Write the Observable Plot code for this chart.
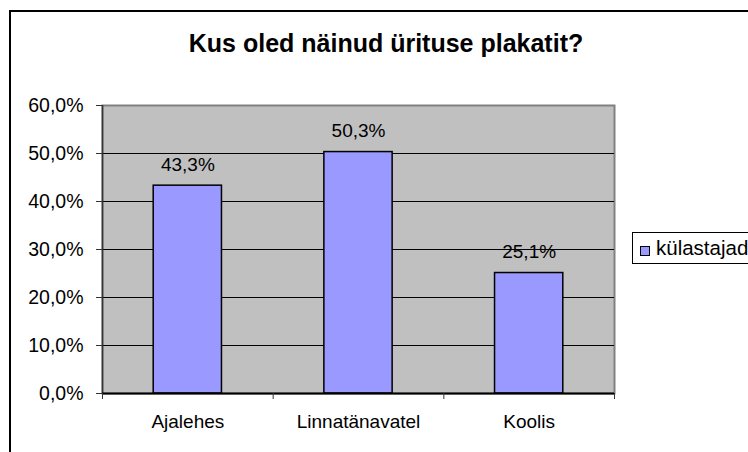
<!DOCTYPE html>
<html>
<head>
<meta charset="utf-8">
<script src="https://cdn.jsdelivr.net/npm/d3@7"></script>
<script src="https://cdn.jsdelivr.net/npm/@observablehq/plot@0.6"></script>
<style>
  html, body { margin: 0; padding: 0; background: #fff; }
  #wrap { position: relative; width: 748px; height: 452px; overflow: hidden; background: #fff; font-family: "Liberation Sans", Arial, sans-serif; }
  #border { position: absolute; left: 9px; top: 10px; width: 900px; height: 900px; border: 2px solid #000; box-sizing: border-box; }
  #title { position: absolute; left: 0; top: 0; width: 772px; height: 70px; box-sizing: border-box; padding-top: 31px; text-align: center; font-weight: bold; font-size: 25px; line-height: 25px; color: #000; }
  #chart { position: absolute; left: 0; top: 70px; }
  #legend { position: absolute; left: 632px; top: 232px; width: 200px; height: 32px; border: 1px solid #000; box-sizing: border-box; background: #fff; font-size: 20.5px; color: #000; }
  #legend .sw { position: absolute; left: 7px; top: 13px; width: 10px; height: 10px; border: 1px solid #000; box-sizing: border-box; }
  #legend .lbl { position: absolute; left: 23px; top: 2px; line-height: 25px; white-space: nowrap; }
</style>
</head>
<body>
<div id="wrap">
  <div id="border"></div>
  <div id="title"></div>
  <div id="chart"></div>
  <div id="legend"><span class="sw"></span><span class="lbl"></span></div>
</div>
<script>
const titleText = "Kus oled näinud ürituse plakatit?";
const categories = ["Ajalehes", "Linnatänavatel", "Koolis"];
const values = [43.3, 50.3, 25.1];
const seriesName = "külastajad";
const yTicks = [0, 10, 20, 30, 40, 50, 60];
const barColor = "#9999FF";

const fmt = v => v.toFixed(1).replace(".", ",") + "%";
const data = categories.map((c, i) => ({ c, i, v: values[i] }));
const centers = categories.map((c, i) => i + 0.5);
const bounds = d3.range(categories.length + 1);

document.getElementById("title").textContent = titleText;
document.querySelector("#legend .lbl").textContent = seriesName;
document.querySelector("#legend .sw").style.background = barColor;

const chart = Plot.plot({
  width: 748,
  height: 382,
  marginLeft: 102,
  marginRight: 134,
  marginTop: 35,
  marginBottom: 59,
  style: { fontFamily: "'Liberation Sans', Arial, sans-serif", fontSize: "19px", background: "transparent", color: "#000", overflow: "visible" },
  x: { domain: [0, categories.length], label: null },
  y: { domain: [0, 60], label: null },
  marks: [
    Plot.frame({ fill: "#C0C0C0", stroke: "#808080", strokeWidth: 2 }),
    Plot.ruleY(yTicks.filter(t => t > 0 && t < 60), { stroke: "#000", strokeWidth: 1 }),
    Plot.rectY(data, { x1: d => d.i + 0.3, x2: d => d.i + 0.7, y: "v", fill: barColor, stroke: "#000", strokeWidth: 1.5 }),
    Plot.text(data, { x: d => d.i + 0.5, y: "v", text: d => fmt(d.v), lineAnchor: "bottom", dy: -15, fontSize: 19, fill: "#000" }),
    Plot.ruleX([0], { stroke: "#333", strokeWidth: 1.5 }),
    Plot.ruleY([0], { stroke: "#000", strokeWidth: 2 }),
    Plot.axisY(yTicks, { tickSize: 6, tickPadding: 13, tickFormat: fmt, label: null, fontSize: 19.5, stroke: "#333" }),
    Plot.axisX(bounds, { tickSize: 6, tickFormat: () => "", label: null, stroke: "#333" }),
    Plot.axisX(centers, { tickSize: 0, tickPadding: 21, tickFormat: d => categories[Math.floor(d)], label: null, fontSize: 19 })
  ]
});
document.getElementById("chart").appendChild(chart);
</script>
</body>
</html>
